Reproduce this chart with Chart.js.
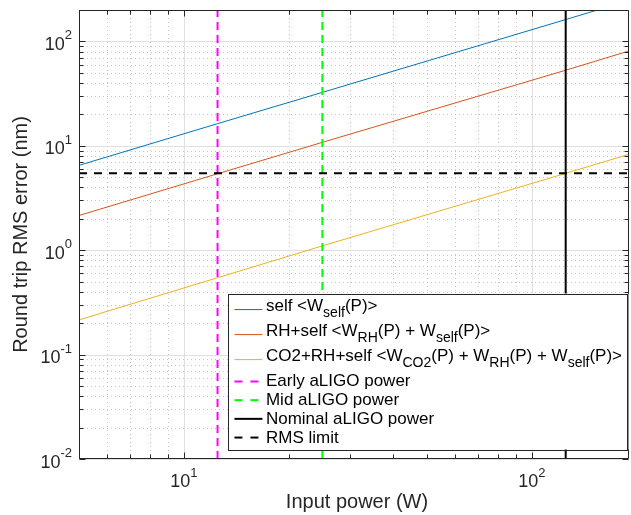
<!DOCTYPE html>
<html lang="en">
<head>
    <meta charset="UTF-8">
    <title>Round trip RMS error vs input power</title>
    <script src="https://cdn.jsdelivr.net/npm/chart.js@4.4.0/dist/chart.umd.min.js"></script>
    <style>
        body { margin: 0; background: #fff; }
        #wrap { width: 631px; height: 515px; }
    </style>
</head>
<body>
    <div id="wrap"><canvas id="chart" width="631" height="515"></canvas></div>

    <script>
        const power = [5, 12.5, 25, 125, 190];
        // round trip RMS error (nm)
        const selfErr = [6.5, 16.3, 32.5, 162, 247];
        const rhSelfErr = [2.15, 5.4, 10.8, 53, 81];
        const co2RhSelfErr = [0.215, 0.545, 1.1, 5.45, 8.3];

        // reference powers and limit
        const earlyPower = 12.5;
        const midPower = 25;
        const nominalPower = 125;
        const rmsLimit = 5.45;

        const xRange = [5, 190];
        const yRange = [0.01, 200];
        const xTicks = [10, 100];
        const yTicks = [0.01, 0.1, 1, 10, 100];

        const legendLabels = [
            'self <W_{self}(P)>',
            'RH+self <W_{RH}(P) + W_{self}(P)>',
            'CO2+RH+self <W_{CO2}(P) + W_{RH}(P) + W_{self}(P)>',
            'Early aLIGO power',
            'Mid aLIGO power',
            'Nominal aLIGO power',
            'RMS limit'
        ];

        const FONT = "'Liberation Sans', Arial, sans-serif";
        const AXIS = '#262626';

        function xy(xs, ys) {
            return xs.map((v, i) => ({ x: v, y: ys[i] }));
        }

        // 1..9 x 10^n inside a range
        function logSteps(range) {
            const out = [];
            const d0 = Math.floor(Math.log10(range[0]));
            const d1 = Math.ceil(Math.log10(range[1]));
            for (let d = d0; d <= d1; d++) {
                for (let m = 1; m <= 9; m++) {
                    const v = +(m * Math.pow(10, d)).toPrecision(6);
                    if (v >= range[0] * 0.9999 && v <= range[1] * 1.0001) out.push({ v, major: m === 1 });
                }
            }
            return out;
        }

        // split 'a_{b}c' into plain / subscript parts
        function parseTex(s) {
            const parts = [];
            const re = /_\{([^}]*)\}/g;
            let last = 0, m;
            while ((m = re.exec(s))) {
                if (m.index > last) parts.push({ t: s.slice(last, m.index), sub: false });
                parts.push({ t: m[1], sub: true });
                last = re.lastIndex;
            }
            if (last < s.length) parts.push({ t: s.slice(last), sub: false });
            return parts;
        }

        function powLabel(v) {
            return { base: '10', exp: String(Math.round(Math.log10(v))) };
        }

        const matlabAxes = {
            id: 'matlabAxes',
            beforeDatasetsDraw(chart) {
                const { ctx, chartArea: a, scales: { x, y } } = chart;
                ctx.save();
                ctx.lineWidth = 1;
                // minor grid, dotted
                ctx.strokeStyle = '#c6c6c6';
                ctx.setLineDash([1, 3]);
                ctx.beginPath();
                logSteps(xRange).filter(t => !t.major).forEach(t => {
                    const px = Math.round(x.getPixelForValue(t.v)) + 0.5;
                    ctx.moveTo(px, a.top); ctx.lineTo(px, a.bottom);
                });
                logSteps(yRange).filter(t => !t.major).forEach(t => {
                    const py = Math.round(y.getPixelForValue(t.v)) + 0.5;
                    ctx.moveTo(a.left, py); ctx.lineTo(a.right, py);
                });
                ctx.stroke();
                // major grid
                ctx.setLineDash([]);
                ctx.strokeStyle = '#e0e0e0';
                ctx.beginPath();
                xTicks.forEach(v => {
                    const px = Math.round(x.getPixelForValue(v)) + 0.5;
                    ctx.moveTo(px, a.top); ctx.lineTo(px, a.bottom);
                });
                yTicks.forEach(v => {
                    const py = Math.round(y.getPixelForValue(v)) + 0.5;
                    ctx.moveTo(a.left, py); ctx.lineTo(a.right, py);
                });
                ctx.stroke();
                ctx.restore();
            },
            afterDatasetsDraw(chart) {
                const { ctx, chartArea: a, scales: { x, y } } = chart;
                const L = Math.round(a.left) + 0.5, R = Math.round(a.right) - 0.5;
                const T = Math.round(a.top) + 0.5, B = Math.round(a.bottom) - 0.5;
                ctx.save();

                // box + ticks on all four sides
                ctx.strokeStyle = AXIS;
                ctx.lineWidth = 1;
                ctx.beginPath();
                ctx.rect(L, T, R - L, B - T);
                logSteps(xRange).forEach(t => {
                    const px = Math.round(x.getPixelForValue(t.v)) + 0.5;
                    const len = t.major ? 6 : 4;
                    ctx.moveTo(px, B); ctx.lineTo(px, B - len);
                    ctx.moveTo(px, T); ctx.lineTo(px, T + len);
                });
                logSteps(yRange).forEach(t => {
                    const py = Math.round(y.getPixelForValue(t.v)) + 0.5;
                    const len = t.major ? 6 : 4;
                    ctx.moveTo(L, py); ctx.lineTo(L + len, py);
                    ctx.moveTo(R, py); ctx.lineTo(R - len, py);
                });
                ctx.stroke();

                // tick labels 10^n
                ctx.fillStyle = AXIS;
                ctx.textBaseline = 'alphabetic';
                ctx.textAlign = 'left';
                const baseFont = '18px ' + FONT, expFont = '13px ' + FONT;
                yTicks.forEach(v => {
                    const lab = powLabel(v);
                    ctx.font = expFont; const we = ctx.measureText(lab.exp).width;
                    ctx.font = baseFont; const wb = ctx.measureText(lab.base).width;
                    const py = y.getPixelForValue(v);
                    const xe = a.left - 7;
                    ctx.fillText(lab.base, xe - we - wb, py + 8.5);
                    ctx.font = expFont;
                    ctx.fillText(lab.exp, xe - we, py - 2);
                });
                xTicks.forEach(v => {
                    const lab = powLabel(v);
                    ctx.font = expFont; const we = ctx.measureText(lab.exp).width;
                    ctx.font = baseFont; const wb = ctx.measureText(lab.base).width;
                    const px = x.getPixelForValue(v);
                    const x0 = px - (wb + we) / 2;
                    ctx.fillText(lab.base, x0, a.bottom + 28);
                    ctx.font = expFont;
                    ctx.fillText(lab.exp, x0 + wb, a.bottom + 17.5);
                });

                // axis titles
                ctx.font = '20px ' + FONT;
                ctx.textAlign = 'center';
                ctx.fillText('Input power (W)', (a.left + a.right) / 2 + 3, 507.5);
                ctx.save();
                ctx.translate(27, (a.top + a.bottom) / 2);
                ctx.rotate(-Math.PI / 2);
                ctx.fillText('Round trip RMS error (nm)', 0, 0);
                ctx.restore();

                drawLegend(chart);
                ctx.restore();
            }
        };

        function drawLegend(chart) {
            const { ctx, chartArea: a } = chart;
            const mainFont = '17px ' + FONT, subFont = '14px ' + FONT;
            const rows = chart.data.datasets.map((ds, i) => ({ ds, parts: parseTex(legendLabels[i]) }));

            const textWidth = parts => parts.reduce((w, p) => {
                ctx.font = p.sub ? subFont : mainFont;
                return w + ctx.measureText(p.t).width;
            }, 0);
            const maxW = Math.max(...rows.map(r => textWidth(r.parts)));
            const rowH = rows.map(r => r.parts.some(p => p.sub) ? 25 : 18.7);
            const height = rowH.reduce((s, h) => s + h, 0) + 6.2;
            const width = 38 + maxW + 6;
            const right = Math.round(a.right) - 0.5;
            const bottom = Math.round(a.bottom) - 9.5;
            const left = right - width, top = bottom - height;

            ctx.save();
            ctx.fillStyle = '#fff';
            ctx.fillRect(left, top, width, height);
            ctx.strokeStyle = AXIS;
            ctx.lineWidth = 1;
            ctx.strokeRect(Math.round(left) + 0.5, Math.round(top) + 0.5, Math.round(width) - 1, Math.round(height));

            let cy = top + 3.6;
            rows.forEach((r, i) => {
                const sy = cy + rowH[i] / 2;
                const hasSub = r.parts.some(p => p.sub);
                ctx.strokeStyle = r.ds.borderColor;
                ctx.lineWidth = r.ds.borderWidth;
                ctx.setLineDash(r.ds.borderDash && r.ds.borderDash.length ? [8, 8] : []);
                ctx.beginPath();
                ctx.moveTo(left + 6, sy);
                ctx.lineTo(left + 34, sy);
                ctx.stroke();
                ctx.setLineDash([]);

                ctx.fillStyle = '#000';
                ctx.textAlign = 'left';
                ctx.textBaseline = 'alphabetic';
                let tx = left + 37.5;
                r.parts.forEach(p => {
                    ctx.font = p.sub ? subFont : mainFont;
                    const by = hasSub ? (p.sub ? sy + 7.5 : sy + 1.5) : sy + 5;
                    ctx.fillText(p.t, tx, by);
                    tx += ctx.measureText(p.t).width;
                });
                cy += rowH[i];
            });
            ctx.restore();
        }

        const lineBase = { pointRadius: 0, fill: false, tension: 0 };

        new Chart(document.getElementById('chart'), {
            type: 'line',
            data: {
                datasets: [
                    { ...lineBase, data: xy(power, selfErr), borderColor: '#0072BD', borderWidth: 1, order: 7 },
                    { ...lineBase, data: xy(power, rhSelfErr), borderColor: '#D95319', borderWidth: 1, order: 6 },
                    { ...lineBase, data: xy(power, co2RhSelfErr), borderColor: '#EDB120', borderWidth: 1, order: 5 },
                    { ...lineBase, data: xy([earlyPower, earlyPower], yRange), borderColor: '#FF00FF', borderWidth: 2, borderDash: [8, 5], order: 4 },
                    { ...lineBase, data: xy([midPower, midPower], yRange), borderColor: '#00FF00', borderWidth: 2, borderDash: [8, 5], order: 3 },
                    { ...lineBase, data: xy([nominalPower, nominalPower], yRange), borderColor: '#000000', borderWidth: 2, order: 2 },
                    { ...lineBase, data: xy(xRange, [rmsLimit, rmsLimit]), borderColor: '#000000', borderWidth: 2, borderDash: [8, 7], order: 1 }
                ]
            },
            options: {
                responsive: false,
                animation: false,
                devicePixelRatio: 1,
                layout: { padding: { left: 79, top: 10, right: 2, bottom: 56 } },
                scales: {
                    x: { type: 'logarithmic', min: xRange[0], max: xRange[1], display: false },
                    y: { type: 'logarithmic', min: yRange[0], max: yRange[1], display: false }
                },
                plugins: {
                    legend: { display: false },
                    tooltip: { enabled: false }
                }
            },
            plugins: [matlabAxes]
        });
    </script>
</body>
</html>
